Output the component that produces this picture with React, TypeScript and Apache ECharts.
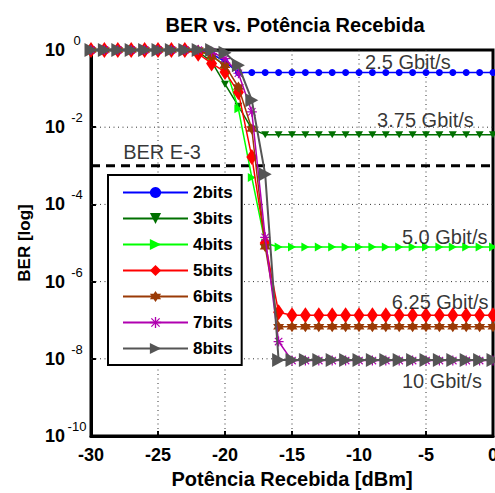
import { useEffect, useRef } from "react";
import * as echarts from "echarts";

// Received power (dBm), one point per dBm
const powerDbm = [
  -30, -29, -28, -27, -26, -25, -24, -23, -22, -21, -20, -19, -18, -17, -16, -15,
  -14, -13, -12, -11, -10, -9, -8, -7, -6, -5, -4, -3, -2, -1, 0,
];

// BER values (same order as powerDbm)
const ber2bits = [
  1, 1, 1, 1, 1, 1, 1, 1, 0.95, 0.8, 0.5, 0.26, 0.26, 0.26, 0.26, 0.26,
  0.26, 0.26, 0.26, 0.26, 0.26, 0.26, 0.26, 0.26, 0.26, 0.26, 0.26, 0.26, 0.26, 0.26, 0.26,
];
const ber3bits = [
  1, 1, 1, 1, 1, 1, 1, 1, 0.9, 0.5, 0.13, 0.035, 0.009, 0.0064, 0.0064, 0.0064,
  0.0064, 0.0064, 0.0064, 0.0064, 0.0064, 0.0064, 0.0064, 0.0064, 0.0064, 0.0064, 0.0064, 0.0064, 0.0064, 0.0064, 0.0064,
];
const ber4bits = [
  1, 1, 1, 1, 1, 1, 1, 1, 0.95, 0.7, 0.4, 0.03, 5e-4, 1e-5, 7.9e-6, 7.9e-6,
  7.9e-6, 7.9e-6, 7.9e-6, 7.9e-6, 7.9e-6, 7.9e-6, 7.9e-6, 7.9e-6, 7.9e-6, 7.9e-6, 7.9e-6, 7.9e-6, 7.9e-6, 7.9e-6, 7.9e-6,
];
const ber5bits = [
  1, 1, 1, 1, 1, 1, 1, 1, 0.8, 0.45, 0.27, 0.08, 1.7e-3, 1e-5, 1.6e-7, 1.35e-7,
  1.35e-7, 1.35e-7, 1.35e-7, 1.35e-7, 1.35e-7, 1.35e-7, 1.35e-7, 1.35e-7, 1.35e-7, 1.35e-7, 1.35e-7, 1.35e-7, 1.35e-7, 1.35e-7, 1.35e-7,
];
const ber6bits = [
  1, 1, 1, 1, 1, 1, 1, 1, 1, 0.7, 0.4, 0.11, 9e-3, 8e-6, 6.8e-8, 6.8e-8,
  6.8e-8, 6.8e-8, 6.8e-8, 6.8e-8, 6.8e-8, 6.8e-8, 6.8e-8, 6.8e-8, 6.8e-8, 6.8e-8, 6.8e-8, 6.8e-8, 6.8e-8, 6.8e-8, 6.8e-8,
];
const ber7bits = [
  1, 1, 1, 1, 1, 1, 1, 1, 1, 0.9, 0.6, 0.25, 0.025, 1.4e-5, 2.8e-8, 9e-9,
  9e-9, 9e-9, 9e-9, 9e-9, 9e-9, 9e-9, 9e-9, 9e-9, 9e-9, 9e-9, 9e-9, 9e-9, 9e-9, 9e-9, 9e-9,
];
const ber8bits = [
  1, 1, 1, 1, 1, 1, 1, 1, 1, 1, 0.85, 0.4, 0.05, 6e-4, 9.3e-9, 9.3e-9,
  9.3e-9, 9.3e-9, 9.3e-9, 9.3e-9, 9.3e-9, 9.3e-9, 9.3e-9, 9.3e-9, 9.3e-9, 9.3e-9, 9.3e-9, 9.3e-9, 9.3e-9, 9.3e-9, 9.3e-9,
];

const seriesNames = ["2bits", "3bits", "4bits", "5bits", "6bits", "7bits", "8bits"];

// Axis ranges and grid-line positions (tick values)
const xRange = [-30, 0];
const yRange = [1e-10, 1];
const gridX = [-25, -20, -15, -10, -5];
const gridY = [1e-2, 1e-4, 1e-6, 1e-8];

// BER E-3 reference line
const thresholdX = [-30, 0];
const thresholdBer = [1e-3, 1e-3];

// Text annotations (data coordinates)
const annotationText = ["2.5 Gbit/s", "3.75 Gbit/s", "5.0 Gbit/s", "6.25 Gbit/s", "10 Gbit/s", "BER E-3"];
const annotationX = [-9.55, -8.65, -6.8, -7.55, -6.8, -27.6];
const annotationY = [0.49, 0.0158, 1.45e-5, 3e-7, 2.6e-9, 2.3e-3];

const FONT = "'Liberation Sans', Arial, Helvetica, sans-serif";

const rightTri = "path://M0,0L10,5L0,10Z";
const downTri = "path://M0,0L10,0L5,9Z";
const hexagram =
  "path://M5,0L6.45,2.5L9.33,2.5L7.89,5L9.33,7.5L6.45,7.5L5,10L3.55,7.5L0.67,7.5L2.11,5L0.67,2.5L3.55,2.5Z";
const asterisk =
  "path://M4.4,0H5.6V10H4.4ZM0,4.4H10V5.6H0ZM0.9,1.7L1.7,0.9L9.1,8.3L8.3,9.1ZM8.3,0.9L9.1,1.7L1.7,9.1L0.9,8.3Z";

const seriesValues = [ber2bits, ber3bits, ber4bits, ber5bits, ber6bits, ber7bits, ber8bits];
const seriesStyles = [
  { color: "#0000FF", symbol: "circle", size: 7, width: 1.5 },
  { color: "#007000", symbol: downTri, size: [8, 7], width: 1.5 },
  { color: "#00FF00", symbol: rightTri, size: [8, 9], width: 1.5 },
  { color: "#FF0000", symbol: "diamond", size: [11, 16], width: 1.5 },
  { color: "#9A3A06", symbol: hexagram, size: [11, 11], width: 1.5 },
  { color: "#B000B0", symbol: asterisk, size: [10, 10], width: 1.5 },
  { color: "#555555", symbol: rightTri, size: [13, 14], width: 2 },
];

export default function App() {
  const ref = useRef<HTMLDivElement>(null);

  useEffect(() => {
    if (!ref.current) return;
    const chart = echarts.init(ref.current, undefined, { renderer: "svg" });

    const makeDotted = () => ({ color: "#333333", width: 1, type: [1, 3.5] });

    const gridSeries: any[] = [
      ...gridX.map((x) => ({
        name: "gx" + x,
        type: "line",
        silent: true,
        symbol: "none",
        z: 1,
        lineStyle: makeDotted(),
        emphasis: { disabled: true },
        data: [
          [x, yRange[1]],
          [x, yRange[0]],
        ],
      })),
      ...gridY.map((y) => ({
        name: "gy" + y,
        type: "line",
        silent: true,
        symbol: "none",
        z: 1,
        lineStyle: makeDotted(),
        emphasis: { disabled: true },
        data: [
          [xRange[0], y],
          [xRange[1], y],
        ],
      })),
    ];

    const lineSeries: any[] = seriesNames.map((name, k) => {
      const st = seriesStyles[k];
      return {
        name,
        type: "line",
        data: powerDbm.map((x, i) => [x, seriesValues[k][i]]),
        symbol: st.symbol,
        symbolSize: st.size,
        showAllSymbol: true,
        lineStyle: { color: st.color, width: st.width },
        itemStyle: { color: st.color, borderWidth: 0 },
        z: 3 + k * 0.01,
        emphasis: { disabled: true },
      };
    });

    const thresholdSeries = {
      name: "BER E-3",
      type: "line",
      data: thresholdX.map((x, i) => [x, thresholdBer[i]]),
      symbol: "none",
      silent: true,
      z: 2,
      lineStyle: { color: "#000", width: 3, type: [9, 6] },
      emphasis: { disabled: true },
    };

    const annotationSeries = {
      name: "annotations",
      type: "scatter",
      silent: true,
      symbolSize: 0,
      z: 5,
      data: annotationText.map((t, i) => ({ name: t, value: [annotationX[i], annotationY[i]] })),
      label: {
        show: true,
        position: [0, 0],
        align: "left",
        verticalAlign: "middle",
        formatter: (p: any) => p.name,
        color: "#000",
        fontSize: 20,
        fontFamily: FONT,
      },
    };

    const tickLabelFont = { color: "#000", fontFamily: FONT };

    chart.setOption({
      animation: false,
      title: {
        text: "BER vs. Potência Recebida",
        left: 295,
        top: 15,
        padding: 0,
        textAlign: "center",
        textStyle: { fontSize: 20, fontWeight: "bold", color: "#000", fontFamily: FONT },
      },
      grid: {
        left: 91,
        right: 2,
        top: 50,
        bottom: 57,
        outerBoundsMode: "none",
        containLabel: false,
        show: true,
        borderColor: "#000",
        borderWidth: 3,
        backgroundColor: "transparent",
      },
      legend: {
        show: true,
        orient: "vertical",
        left: 108,
        top: 175,
        data: seriesNames,
        itemWidth: 65,
        itemHeight: 14,
        itemGap: 9,
        padding: [9, 9, 8, 14],
        borderColor: "#000",
        borderWidth: 2,
        backgroundColor: "#fff",
        selectedMode: false,
        textStyle: { fontSize: 17, fontWeight: "bold", color: "#000", fontFamily: FONT, lineHeight: 17 },
      },
      xAxis: {
        type: "value",
        min: xRange[0],
        max: xRange[1],
        interval: 5,
        position: "bottom",
        axisLine: { show: true, onZero: false, lineStyle: { color: "#000", width: 3 } },
        axisTick: { show: true, inside: true, length: 5, lineStyle: { color: "#000", width: 2 } },
        axisLabel: { color: "#000", fontFamily: FONT, fontSize: 18, fontWeight: "bold", margin: 10 },
        splitLine: { show: false },
        name: "Potência Recebida [dBm]",
        nameLocation: "middle",
        nameGap: 32,
        nameTextStyle: { ...tickLabelFont, fontSize: 20, fontWeight: "bold" },
      },
      yAxis: {
        type: "log",
        logBase: 10,
        min: yRange[0],
        max: yRange[1],
        interval: 2,
        position: "left",
        axisLine: { show: true, onZero: false, lineStyle: { color: "#000", width: 3 } },
        axisTick: { show: true, inside: true, length: 5, lineStyle: { color: "#000", width: 2 } },
        splitLine: { show: false },
        axisLabel: {
          margin: 3,
          formatter: (v: number) => {
            const e = Math.round(Math.log10(v));
            return "{b|10}{e|" + e + "}";
          },
          rich: {
            b: { ...tickLabelFont, fontSize: 18, fontWeight: "bold", lineHeight: 40 },
            e: {
              ...tickLabelFont,
              fontSize: 13,
              fontWeight: "normal",
              verticalAlign: "top",
              padding: [4, 0, 0, 1],
              width: 22,
              align: "left",
            },
          },
        },
        name: "BER [log]",
        nameLocation: "middle",
        nameGap: 58,
        nameTextStyle: { ...tickLabelFont, fontSize: 17, fontWeight: "bold" },
      },
      series: [...gridSeries, thresholdSeries, ...lineSeries, annotationSeries],
    });

    return () => {
      chart.dispose();
    };
  }, []);

  return (
    <div
      ref={ref}
      style={{ position: "absolute", left: 0, top: 0, width: 495, height: 493, background: "#fff" }}
    />
  );
}
